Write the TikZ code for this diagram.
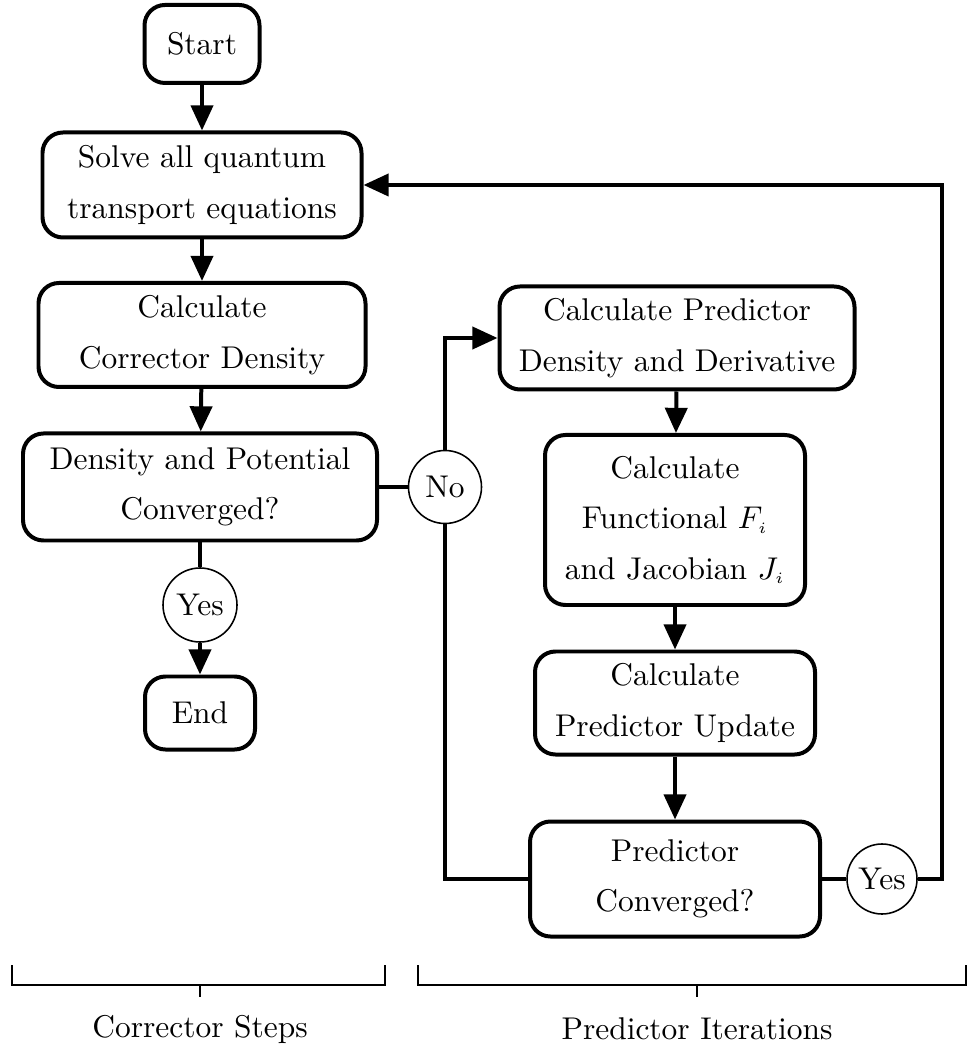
\documentclass[tikz,border=0pt]{standalone}
\usetikzlibrary{arrows.meta}
\newlength\pxu
\setlength\pxu{0.318pt}
\begin{document}
\begin{tikzpicture}[x=0.318pt,y=-0.318pt,
  box/.style={draw,line width=1.27pt,rounded corners=6.5pt,align=center,inner sep=0pt,
    font=\fontsize{10}{16}\selectfont},
  decision/.style={draw,circle,line width=0.5pt,inner sep=0pt,font=\fontsize{10}{12}\selectfont},
  flow/.style={line width=1.27pt,-{Triangle[length=8pt,width=7pt]}},
  link/.style={line width=1.27pt},
  brace/.style={line width=0.65pt},
  lbl/.style={font=\fontsize{10}{12}\selectfont}]
\useasboundingbox (0,0) rectangle (967,1044);
% left column
\node[box,minimum width=115\pxu,minimum height=78\pxu] (start) at (202,44) {Start};
\node[box,minimum width=319\pxu,minimum height=105\pxu] (solve) at (202,185) {Solve all quantum\\transport equations};
\node[box,minimum width=327\pxu,minimum height=104\pxu] (corr) at (202,335) {Calculate\\Corrector Density};
\node[box,minimum width=354\pxu,minimum height=107\pxu] (conv) at (200,487) {Density and Potential\\Converged?};
\node[decision,minimum size=73\pxu] (no) at (445,487) {No};
\node[decision,minimum size=74\pxu] (yes1) at (200,605) {Yes};
\node[box,minimum width=110\pxu,minimum height=73\pxu] (end) at (200,713) {End};
% right column
\node[box,minimum width=355\pxu,minimum height=103\pxu] (pred) at (677,338) {Calculate Predictor\\Density and Derivative};
\node[box,minimum width=260\pxu,minimum height=170\pxu] (func) at (675,520) {Calculate\\Functional $F_{\scriptscriptstyle i}$\\and Jacobian $J_{\scriptscriptstyle i}$};
\node[box,minimum width=280\pxu,minimum height=103\pxu] (upd) at (675,703) {Calculate\\Predictor Update};
\node[box,minimum width=290\pxu,minimum height=115\pxu] (pconv) at (675,879) {Predictor\\Converged?};
\node[decision,minimum size=70\pxu] (yes2) at (882,879) {Yes};
\coordinate (ret) at (942,879);
% connectors
\draw[flow] (start) -- (solve);
\draw[flow] (solve) -- (corr);
\draw[flow] (corr) -- (conv);
\draw[link] (conv) -- (no);
\draw[link] (conv) -- (yes1);
\draw[flow] (yes1) -- (end);
\draw[flow] (no.north) |- (pred.west);
\draw[flow] (pred) -- (func);
\draw[flow] (func) -- (upd);
\draw[flow] (upd) -- (pconv);
\draw[link] (pconv.west) -| (no.south);
\draw[link] (pconv.east) -- (yes2.west);
\draw[flow] (yes2.east) -- (ret) |- (solve.east);
% brackets
\coordinate (c1) at (12,965); \coordinate (c2) at (385,965);
\coordinate (p1) at (418,965); \coordinate (p2) at (966,965);
\draw[brace] (c1) -- ++(0,20) -| (c2);
\draw[brace] (200,985) -- (200,997);
\draw[brace] (p1) -- ++(0,20) -| (p2);
\draw[brace] (697,985) -- (697,997);
\node[lbl] (clabel) at (200,1029) {Corrector Steps};
\node[lbl] (plabel) at (697,1029) {Predictor Iterations};
\end{tikzpicture}
\end{document}
